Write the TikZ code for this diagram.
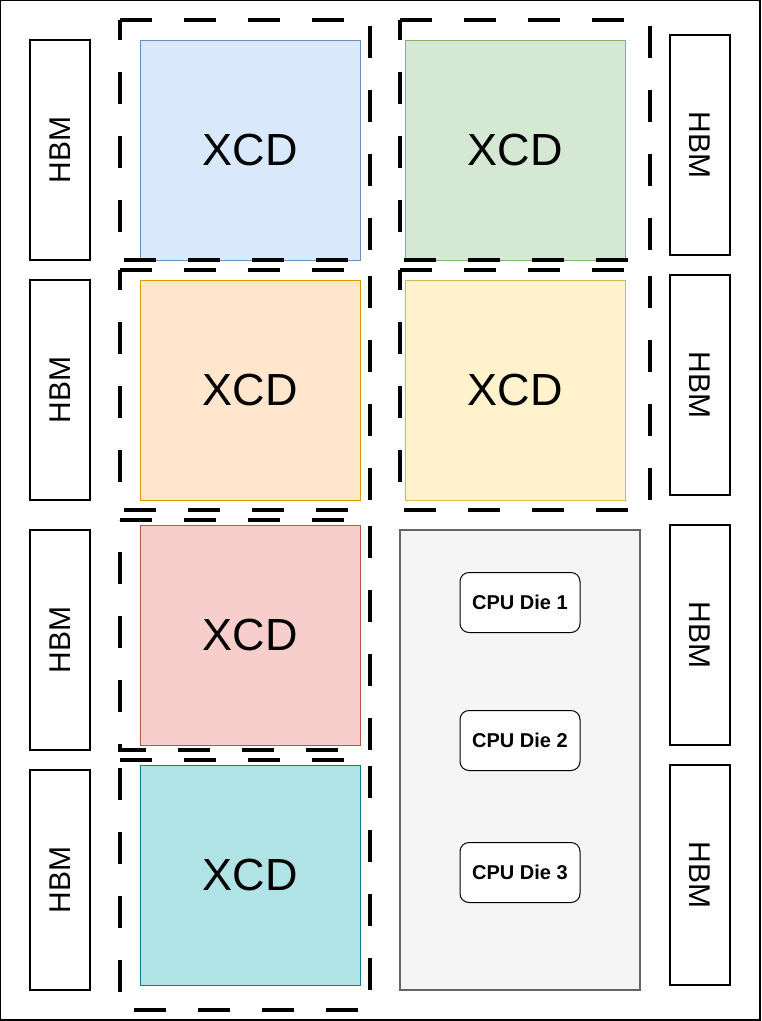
\documentclass[tikz,border=0pt]{standalone}
\usepackage{fontspec}
\setmainfont{Liberation Sans}
\usepackage{tikz}
\usetikzlibrary{positioning}
\usepackage{xcolor}
\definecolor{xcdblue}{HTML}{DAE8FC}
\definecolor{xcdbluedraw}{HTML}{6C8EBF}
\definecolor{xcdgreen}{HTML}{D5E8D4}
\definecolor{xcdgreendraw}{HTML}{82B366}
\definecolor{xcdorange}{HTML}{FFE6CC}
\definecolor{xcdorangedraw}{HTML}{D79B00}
\definecolor{xcdyellow}{HTML}{FFF2CC}
\definecolor{xcdyellowdraw}{HTML}{D6B656}
\definecolor{xcdred}{HTML}{F8CECC}
\definecolor{xcdreddraw}{HTML}{B85450}
\definecolor{xcdteal}{HTML}{B0E3E6}
\definecolor{xcdtealdraw}{HTML}{0E8088}
\definecolor{cpugray}{HTML}{F5F5F5}
\definecolor{cpugraydraw}{HTML}{666666}
\tikzset{
  xcd/.style={draw,line width=0.75pt,minimum width=165pt,minimum height=165pt,inner sep=0pt,font=\fontsize{33.75}{40}\selectfont},
  hbm/.style={draw,line width=0.9pt,minimum width=165pt,minimum height=45pt,inner sep=0pt,font=\fontsize{22.5}{27}\selectfont},
  cpubox/.style={draw=cpugraydraw,fill=cpugray,line width=0.9pt,minimum width=180pt,minimum height=345pt,inner sep=0pt},
  cpudie/.style={draw,fill=white,rounded corners=6.75pt,line width=0.75pt,minimum width=90pt,minimum height=45pt,inner sep=0pt,font=\fontsize{15}{18}\selectfont\bfseries},
  chiplet/.style={line width=3pt,dash pattern=on 24pt off 24pt}
}
\begin{document}
\begin{tikzpicture}[x=0.75pt,y=-0.75pt]
\useasboundingbox (0,0) rectangle (762,1021);
\draw[line width=1.1pt] (0.5,0.5) rectangle (760,1020);
% HBM stacks
\node[hbm,rotate=90] (hbml1) at (60,150) {HBM};
\node[hbm,rotate=90] (hbml2) at (60,390) {HBM};
\node[hbm,rotate=90] (hbml3) at (60,640) {HBM};
\node[hbm,rotate=90] (hbml4) at (60,880) {HBM};
\node[hbm,rotate=-90] (hbmr1) at (700,145) {HBM};
\node[hbm,rotate=-90] (hbmr2) at (700,385) {HBM};
\node[hbm,rotate=-90] (hbmr3) at (700,635) {HBM};
\node[hbm,rotate=-90] (hbmr4) at (700,875) {HBM};
% compute dies
\node[xcd,fill=xcdblue,draw=xcdbluedraw] (xcd1) at (250,150) {XCD};
\node[xcd,fill=xcdgreen,draw=xcdgreendraw] (xcd2) at (515,150) {XCD};
\node[xcd,fill=xcdorange,draw=xcdorangedraw] (xcd3) at (250,390) {XCD};
\node[xcd,fill=xcdyellow,draw=xcdyellowdraw] (xcd4) at (515,390) {XCD};
\node[xcd,fill=xcdred,draw=xcdreddraw] (xcd5) at (250,635) {XCD};
\node[xcd,fill=xcdteal,draw=xcdtealdraw] (xcd6) at (250,875) {XCD};
% CPU side
\node[cpubox] (cpu) at (520,760) {};
\node[cpudie] (die1) at (520,602.5) {CPU Die 1};
\node[cpudie] (die2) at (520,740.5) {CPU Die 2};
\node[cpudie] (die3) at (520,872.5) {CPU Die 3};
% dashed chiplet outlines
\foreach \xa/\ya/\xb/\yb in {120/20/370/260,400/20/650/260,120/270/370/510,400/270/650/510,120/520/370/750,120/760/370/1010}
  \draw[chiplet] (\xa,\ya) -- (\xb,\ya) -- (\xb,\yb) -- (\xa,\yb) -- cycle;
\end{tikzpicture}
\end{document}
